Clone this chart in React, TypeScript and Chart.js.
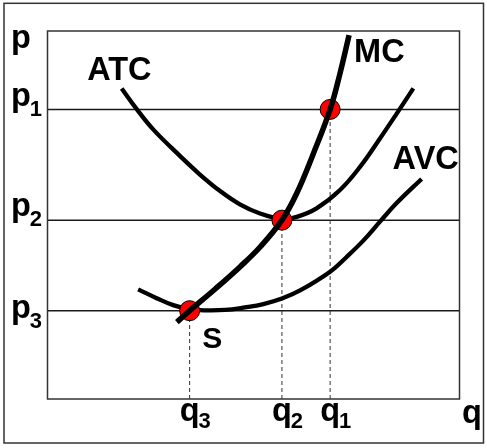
import React, { useEffect, useRef } from 'react';
import { Chart, registerables } from 'chart.js';

Chart.register(...registerables);

// Price levels p1, p2, p3 and quantities q1, q2, q3 (axis units 0..100)
const PRICE_LEVELS = [78.7, 48.6, 24.0];
const QUANTITY_LEVELS = [68.6, 56.9, 34.5];
const LEVEL_SUBSCRIPTS = ['1', '2', '3'];
const AXIS_LABELS = ['p', 'q'];
const CURVE_NAMES = ['MC', 'ATC', 'AVC'];
const SUPPLY_LABEL = 'S';

// Marginal cost
const MC_X = [31.4, 34.5, 40.7, 46.7, 51.6, 56.9, 60.5, 64.5, 68.6, 71.0, 73.2];
const MC_Y = [20.9, 24.0, 29.9, 35.9, 41.3, 48.6, 55.9, 66.6, 78.7, 88.5, 98.9];

// Average total cost
const ATC_X = [18.0, 21.7, 25.7, 32.2, 37.0, 41.9, 46.7, 51.6, 56.9, 60.5, 65.3, 71.0, 75.8, 80.7, 84.8, 88.8];
const ATC_Y = [84.4, 78.7, 73.2, 66.0, 61.0, 56.5, 52.9, 50.4, 48.9, 49.5, 51.8, 56.8, 63.0, 70.8, 77.6, 84.4];

// Average variable cost
const AVC_X = [22.0, 26.5, 30.5, 34.5, 38.2, 43.1, 47.9, 52.4, 56.9, 61.3, 68.6, 72.6, 76.7, 80.7, 84.8, 90.8];
const AVC_Y = [29.8, 27.4, 25.5, 24.4, 24.1, 24.2, 24.9, 25.8, 27.3, 29.5, 34.6, 38.6, 43.1, 48.2, 53.3, 59.8];

const pts = (xs: number[], ys: number[]) => xs.map((x, i) => ({ x, y: ys[i] }));

const FAMILY = '"Liberation Sans", Arial, sans-serif';
const BOLD = 'bold 32.5px ' + FAMILY;
const SUB = 'bold 22px ' + FAMILY;
const S_FONT = 'bold 30px ' + FAMILY;

const overlay = {
  id: 'econOverlay',
  afterDraw(chart: any) {
    const { ctx, chartArea: a, scales } = chart;
    const xs = scales.x;
    const ys = scales.y;
    ctx.save();
    // outer frame
    ctx.strokeStyle = '#333';
    ctx.lineWidth = 1.5;
    ctx.strokeRect(4, 3.3, 479.5, 439.7);
    // plot box
    ctx.strokeRect(a.left, a.top, a.right - a.left, a.bottom - a.top);

    ctx.fillStyle = '#000';
    ctx.textAlign = 'left';
    ctx.textBaseline = 'alphabetic';

    // y axis labels
    ctx.font = BOLD;
    ctx.fillText(AXIS_LABELS[0], 11, 47.5);
    const pOffsets = [-3, -4, 7];
    PRICE_LEVELS.forEach((p, i) => {
      const y = ys.getPixelForValue(p) + pOffsets[i];
      ctx.font = BOLD;
      ctx.fillText(AXIS_LABELS[0], 11, y);
      const w = ctx.measureText(AXIS_LABELS[0]).width;
      ctx.font = SUB;
      ctx.fillText(LEVEL_SUBSCRIPTS[i], 10 + w, y + 10);
    });

    // x axis labels
    QUANTITY_LEVELS.forEach((q, i) => {
      const x = xs.getPixelForValue(q);
      ctx.font = BOLD;
      const w = ctx.measureText(AXIS_LABELS[1]).width;
      ctx.fillText(AXIS_LABELS[1], x - w / 2, 421);
      ctx.font = SUB;
      ctx.fillText(LEVEL_SUBSCRIPTS[i], x + w / 2 - 1, 428);
    });
    ctx.font = BOLD;
    ctx.fillText(AXIS_LABELS[1], 462, 423);

    // curve names
    const endMC = { x: xs.getPixelForValue(MC_X[MC_X.length - 1]), y: ys.getPixelForValue(MC_Y[MC_Y.length - 1]) };
    const startATC = { x: xs.getPixelForValue(ATC_X[0]), y: ys.getPixelForValue(ATC_Y[0]) };
    const endAVC = { x: xs.getPixelForValue(AVC_X[AVC_X.length - 1]), y: ys.getPixelForValue(AVC_Y[AVC_Y.length - 1]) };
    ctx.font = BOLD;
    ctx.fillText(CURVE_NAMES[0], endMC.x + 5, endMC.y + 27);
    ctx.fillText(CURVE_NAMES[1], startATC.x - 34.5, startATC.y - 8);
    ctx.fillText(CURVE_NAMES[2], endAVC.x - 29, endAVC.y - 10);

    ctx.font = S_FONT;
    const sx = xs.getPixelForValue(QUANTITY_LEVELS[2]);
    const sy = ys.getPixelForValue(PRICE_LEVELS[2]);
    ctx.fillText(SUPPLY_LABEL, sx + 12.5, sy + 37.5);
    ctx.restore();
  },
};

export default function App() {
  const ref = useRef<HTMLCanvasElement | null>(null);
  useEffect(() => {
    document.body.style.margin = '0';
    const canvas = ref.current;
    if (!canvas) return;
    const hLines = PRICE_LEVELS.map((p, i) => ({
      type: 'scatter' as const,
      label: 'p' + LEVEL_SUBSCRIPTS[i],
      data: [{ x: 0, y: p }, { x: 100, y: p }],
      showLine: true,
      borderColor: '#1a1a1a',
      borderWidth: 1.5,
      pointRadius: 0,
      order: 6,
    }));
    const vLines = QUANTITY_LEVELS.map((q, i) => ({
      type: 'scatter' as const,
      label: 'q' + LEVEL_SUBSCRIPTS[i],
      data: [{ x: q, y: 0 }, { x: q, y: PRICE_LEVELS[i] }],
      showLine: true,
      borderColor: '#333',
      borderWidth: 1,
      borderDash: [4, 3],
      pointRadius: 0,
      order: 5,
    }));
    const curve = (label: string, xs: number[], ys: number[], w: number, order: number) => ({
      type: 'scatter' as const,
      label,
      data: pts(xs, ys),
      showLine: true,
      borderColor: '#000',
      borderWidth: w,
      pointRadius: 0,
      tension: 0.4,
      borderCapStyle: 'butt' as const,
      order,
    });
    const chart = new Chart(canvas, {
      type: 'scatter',
      data: {
        datasets: [
          curve(CURVE_NAMES[0], MC_X, MC_Y, 5.5, 0),
          {
            type: 'scatter',
            label: 'equilibria',
            data: pts(QUANTITY_LEVELS, PRICE_LEVELS),
            pointRadius: 10,
            pointBackgroundColor: '#ff0000',
            pointBorderColor: '#000',
            pointBorderWidth: 1,
            order: 1,
          } as any,
          curve(CURVE_NAMES[1], ATC_X, ATC_Y, 4.3, 2),
          curve(CURVE_NAMES[2], AVC_X, AVC_Y, 4.3, 3),
          ...vLines,
          ...hLines,
        ],
      },
      options: {
        responsive: false,
        animation: false,
        layout: { padding: { left: 47.5, right: 27.5, top: 31, bottom: 49 } },
        plugins: { legend: { display: false }, tooltip: { enabled: false } },
        scales: {
          x: { type: 'linear', min: 0, max: 100, display: false },
          y: { type: 'linear', min: 0, max: 100, display: false },
        },
      },
      plugins: [overlay],
    });
    return () => chart.destroy();
  }, []);
  return <canvas ref={ref} width={487} height={448} style={{ display: 'block' }} />;
}
